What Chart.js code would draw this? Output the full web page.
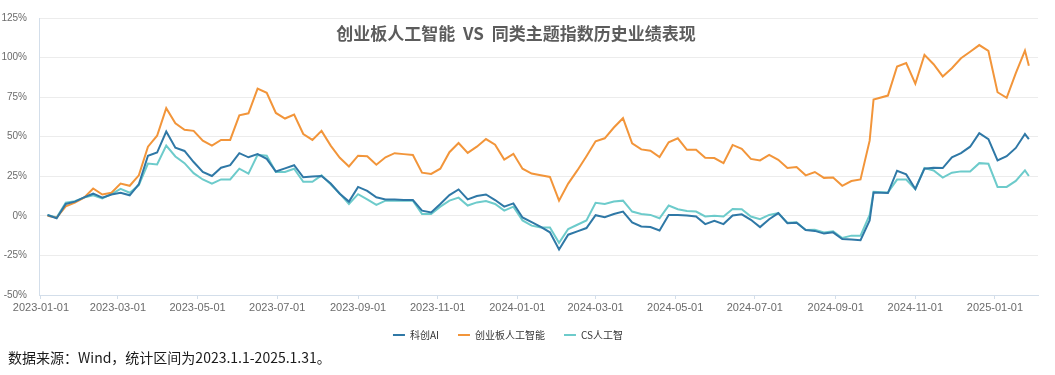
<!DOCTYPE html>
<html>
<head>
<meta charset="utf-8">
<script src="https://cdn.jsdelivr.net/npm/chart.js@4.4.1/dist/chart.umd.min.js"></script>
<style>
    body { margin: 0; background: #fff; width: 1055px; height: 375px; overflow: hidden; position: relative; }
    #wrap { position: absolute; left: 0; top: 0; width: 1055px; height: 350px; }
    #title { position: absolute; left: 0; width: 1032px; top: 23px; line-height: 20px; text-align: center; white-space: pre;
             font-family: "Noto Sans CJK SC", sans-serif; font-size: 17px; font-weight: bold; color: #5c5c5c; }
    #note { position: absolute; left: 8px; top: 348px; line-height: 18px;
            font-family: "Noto Sans CJK SC", sans-serif; font-size: 14px; color: #1a1a1a; }
</style>
</head>
<body>
<div id="wrap"><canvas id="chart"></canvas></div>
<div id="title">创业板人工智能  VS  同类主题指数历史业绩表现</div>
<div id="note">数据来源：Wind，统计区间为2023.1.1-2025.1.31。</div>

<script>
// weekly closing dates
const dates = [
    '2023-01-06', '2023-01-13', '2023-01-20', '2023-01-27', '2023-02-03', '2023-02-10', '2023-02-17', '2023-02-24',
    '2023-03-03', '2023-03-10', '2023-03-17', '2023-03-24', '2023-03-31', '2023-04-07', '2023-04-14', '2023-04-21',
    '2023-04-28', '2023-05-05', '2023-05-12', '2023-05-19', '2023-05-26', '2023-06-02', '2023-06-09', '2023-06-16',
    '2023-06-23', '2023-06-30', '2023-07-07', '2023-07-14', '2023-07-21', '2023-07-28', '2023-08-04', '2023-08-11',
    '2023-08-18', '2023-08-25', '2023-09-01', '2023-09-08', '2023-09-15', '2023-09-22', '2023-09-29', '2023-10-06',
    '2023-10-13', '2023-10-20', '2023-10-27', '2023-11-03', '2023-11-10', '2023-11-17', '2023-11-24', '2023-12-01',
    '2023-12-08', '2023-12-15', '2023-12-22', '2023-12-29', '2024-01-05', '2024-01-12', '2024-01-19', '2024-01-26',
    '2024-02-02', '2024-02-09', '2024-02-16', '2024-02-23', '2024-03-01', '2024-03-08', '2024-03-15', '2024-03-22',
    '2024-03-29', '2024-04-05', '2024-04-12', '2024-04-19', '2024-04-26', '2024-05-03', '2024-05-10', '2024-05-17',
    '2024-05-24', '2024-05-31', '2024-06-07', '2024-06-14', '2024-06-21', '2024-06-28', '2024-07-05', '2024-07-12',
    '2024-07-19', '2024-07-26', '2024-08-02', '2024-08-09', '2024-08-16', '2024-08-23', '2024-08-30', '2024-09-06',
    '2024-09-13', '2024-09-20', '2024-09-27', '2024-09-30', '2024-10-11', '2024-10-18', '2024-10-25', '2024-11-01',
    '2024-11-08', '2024-11-15', '2024-11-22', '2024-11-29', '2024-12-06', '2024-12-13', '2024-12-20', '2024-12-27',
    '2025-01-03', '2025-01-10', '2025-01-17', '2025-01-24', '2025-01-27'
];

// cumulative return, %
const kcAI = [
    0.5, -1.5, 7.5, 9, 11.7, 14, 11.5, 13.5, 14.6, 13, 20, 38, 40, 53.3, 43, 41,
    34, 27.7, 25.2, 30.4, 32, 39.6, 37, 39, 36, 28, 30, 32, 24.4, 24.8, 25.2, 20.4,
    14, 9, 18.3, 15.8, 11.7, 10.4, 10.4, 10, 10, 3.3, 2.2, 7.5, 13.1, 16.7, 10.4, 12.5,
    13.5, 10, 5.8, 7.9, -1, -4, -7, -10.4, -21.2, -11.9, -9.8, -7.7, 0.4, -0.8, 1.2, 2.7,
    -4.2, -6.7, -7.1, -9.2, 0.6, 0.6, 0.2, -0.4, -5.2, -3.1, -5.2, 0.2, 1, -2.5, -7.1, -2.1,
    1.7, -4.6, -4.4, -9, -9.5, -11.2, -10.4, -14.6, -15, -15.4, -2.9, 14.8, 14.4, 28.5, 26.2, 17,
    29.8, 30.4, 30.2, 37, 39.6, 43.7, 52.3, 48.5, 35, 37.7, 42.9, 51.7, 48.5
];
const cybAI = [
    0, -1.2, 6, 8.3, 11.5, 17.3, 13.5, 14.6, 20.4, 19, 25.6, 43.7, 50.6, 68, 58.5, 54.4,
    53.7, 47.5, 44.4, 48, 48, 63.5, 64.8, 80.4, 77.7, 65, 61.5, 64, 51.7, 48, 53.7, 44.4,
    36.7, 31.2, 38, 37.7, 32.3, 37, 39.6, 39, 38.5, 27.3, 26.5, 29.8, 40.2, 46, 39.8, 43.7,
    48.5, 45, 35.6, 39.2, 29.8, 26.7, 25.6, 24.6, 9.6, 20.4, 28.7, 37.7, 47.1, 49, 55.8, 61.7,
    45.8, 42, 41.2, 37.1, 46.5, 49, 41.7, 41.7, 36.7, 36.5, 33.3, 44.8, 42.3, 36, 35, 38.5,
    35.4, 30.2, 30.8, 25.6, 27.7, 24, 24.2, 19, 22, 23, 47.5, 73.5, 76, 94.4, 96.5, 83.5,
    101.7, 95.8, 88.1, 93.3, 99.6, 103.7, 107.9, 104.2, 78.1, 74.6, 90.2, 104.4, 94.8
];
const csAI = [
    0.5, -1, 8.3, 9.2, 11.5, 13, 11, 13.7, 17, 14.6, 19.4, 33, 32.5, 44.4, 37.5, 33.3,
    27, 23, 20.4, 23, 23, 29.8, 26.7, 38.5, 38, 27.7, 27.7, 29.8, 21.5, 21.5, 25.6, 20,
    14, 7.5, 13.7, 10.4, 6.9, 9.6, 9.6, 9.6, 9.6, 1.2, 1.2, 5.8, 9.6, 11.5, 6.5, 8.5,
    9.4, 7.5, 3.3, 5.8, -2.9, -6.2, -7.3, -7.3, -17, -8.3, -5.6, -2.9, 8.3, 7.5, 9, 9.6,
    2.7, 1.2, 0.6, -1.5, 6.5, 4.2, 3.1, 2.7, -0.4, 0, -0.4, 4.4, 4.2, -0.4, -2.1, 0.6,
    1.7, -4.4, -4, -9, -8.8, -10.5, -9.8, -14, -12.5, -12.5, 0.6, 15.2, 14.8, 22.9, 22.9, 16.9,
    30.2, 28.7, 24.2, 27.3, 28.1, 28.1, 33.3, 32.9, 18.3, 18.3, 22.1, 28.7, 25.2
];

const tickDates = [
    '2023-01-01', '2023-03-01', '2023-05-01', '2023-07-01', '2023-09-01', '2023-11-01', '2024-01-01',
    '2024-03-01', '2024-05-01', '2024-07-01', '2024-09-01', '2024-11-01', '2025-01-01'
];
const yTicks = [-50, -25, 0, 25, 50, 75, 100, 125];

const seriesNames = ['科创AI', '创业板人工智能', 'CS人工智'];
const seriesColors = ['#2f78a6', '#f2953a', '#6dcbcb'];

const DAY = 86400000;
const base = Date.parse('2023-01-01');
function dayOf(d) {
    return (Date.parse(d) - base) / DAY;
}

function toPoints(values) {
    return dates.map((d, i) => ({ x: dayOf(d), y: values[i] }));
}

const axisColor = '#d3deea';
const tickColor = '#6b6b6b';

// nudge the legend a bit to the left, like the original
const legendShift = {
    id: 'legendShift',
    afterLayout(chart) {
        chart.legend.left -= 11;
        chart.legend.right -= 11;
    }
};

new Chart(document.getElementById('chart'), {
    type: 'line',
    data: {
        datasets: [kcAI, cybAI, csAI].map((vals, i) => ({
            label: seriesNames[i],
            data: toPoints(vals),
            borderColor: seriesColors[i],
            backgroundColor: seriesColors[i],
            borderWidth: 2,
            pointRadius: 0,
            tension: 0
        }))
    },
    options: {
        responsive: true,
        maintainAspectRatio: false,
        animation: false,
        layout: { padding: { top: 17, right: 17, left: 0, bottom: 0 } },
        scales: {
            x: {
                type: 'linear',
                min: -1.5,
                max: 764,
                afterBuildTicks: scale => {
                    scale.ticks = tickDates.map(d => ({ value: dayOf(d) }));
                },
                afterFit: scale => { scale.height = 16; },
                ticks: {
                    autoSkip: false,
                    maxRotation: 0,
                    padding: 2,
                    color: tickColor,
                    font: { family: 'Liberation Sans', size: 11 },
                    callback: (v, i) => tickDates[i]
                },
                grid: { drawOnChartArea: false, drawTicks: true, tickLength: 4, color: axisColor },
                border: { display: true, color: axisColor, width: 1 }
            },
            y: {
                min: -50,
                max: 125,
                afterBuildTicks: scale => {
                    scale.ticks = yTicks.map(v => ({ value: v }));
                },
                afterFit: scale => { scale.width = 39; },
                ticks: {
                    padding: 12,
                    color: tickColor,
                    font: { family: 'Liberation Sans', size: 10 },
                    callback: v => v + '%'
                },
                grid: { color: '#ececec', drawTicks: false },
                border: { display: true, color: axisColor, width: 1 }
            }
        },
        plugins: {
            legend: {
                position: 'bottom',
                labels: {
                    usePointStyle: true,
                    pointStyle: 'line',
                    pointStyleWidth: 12,
                    padding: 19,
                    color: '#333',
                    font: { family: 'Noto Sans CJK SC', size: 10 }
                }
            },
            title: { display: false },
            tooltip: { enabled: false }
        }
    },
    plugins: [legendShift]
});
</script>
</body>
</html>
